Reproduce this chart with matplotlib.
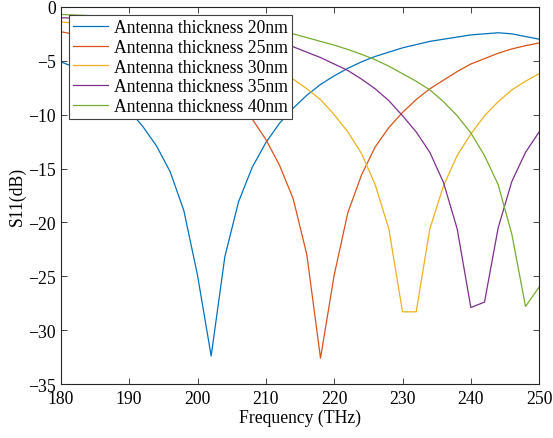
import numpy as np
import matplotlib
matplotlib.use("Agg")
import matplotlib.pyplot as plt

# frequency grid (THz)
freq = np.arange(180, 252, 2)

# S11 (dB) for each antenna thickness
s11_20nm = [-5.1, -5.6, -6.3, -7.2, -8.3, -9.6, -11.1, -12.9, -15.3, -18.9, -24.9, -32.4,
            -23.2, -18.1, -14.9, -12.6, -10.8, -9.4, -8.2, -7.2, -6.4, -5.7, -5.1, -4.6,
            -4.2, -3.8, -3.5, -3.2, -3.0, -2.8, -2.6, -2.5, -2.4, -2.5, -2.75, -3.0]
s11_25nm = [-2.3, -2.55, -2.8, -3.1, -3.45, -3.85, -4.3, -4.8, -5.35, -5.95, -6.6, -7.3,
            -8.1, -9.2, -10.4, -12.3, -14.7, -17.8, -23.0, -32.6, -24.9, -19.1, -15.6, -13.0,
            -11.2, -9.8, -8.6, -7.6, -6.8, -6.0, -5.3, -4.8, -4.3, -3.9, -3.6, -3.35]
s11_30nm = [-1.4, -1.5, -1.6, -1.7, -1.8, -1.95, -2.1, -2.25, -2.45, -2.7, -3.0, -3.4,
            -3.8, -4.3, -4.8, -5.4, -6.0, -6.7, -7.6, -8.6, -10.0, -11.6, -13.6, -16.5,
            -20.6, -28.3, -28.3, -20.6, -16.6, -13.8, -11.8, -10.1, -8.8, -7.7, -6.9, -6.2]
s11_35nm = [-1.0, -1.05, -1.1, -1.2, -1.25, -1.3, -1.4, -1.5, -1.6, -1.7, -1.85, -2.0,
            -2.2, -2.4, -2.65, -2.95, -3.3, -3.7, -4.2, -4.7, -5.3, -5.9, -6.7, -7.6,
            -8.7, -10.1, -11.6, -13.5, -16.3, -20.6, -27.9, -27.4, -20.5, -16.2, -13.5, -11.6]
s11_40nm = [-0.7, -0.75, -0.8, -0.85, -0.9, -1.0, -1.05, -1.15, -1.25, -1.35, -1.45, -1.55,
            -1.7, -1.85, -2.0, -2.15, -2.3, -2.5, -2.85, -3.2, -3.55, -3.95, -4.4, -4.9,
            -5.5, -6.2, -6.9, -7.7, -8.8, -10.1, -11.7, -13.8, -16.5, -21.1, -27.8, -26.0]

labels = ["Antenna thickness 20nm", "Antenna thickness 25nm", "Antenna thickness 30nm",
          "Antenna thickness 35nm", "Antenna thickness 40nm"]
colors = ["#0072BD", "#D95319", "#EDB120", "#7E2F8E", "#77AC30"]
series = [s11_20nm, s11_25nm, s11_30nm, s11_35nm, s11_40nm]

plt.rcParams["font.family"] = ["Liberation Serif", "DejaVu Serif"]
fs = 12.7

fig = plt.figure(figsize=(5.53, 4.39), dpi=100)
ax = fig.add_axes([0.110, 0.123, 0.865, 0.859])

for vals, lab, col in zip(series, labels, colors):
    ax.plot(freq, vals, color=col, lw=0.9, label=lab)

ax.set_xlim(180, 250)
ax.set_ylim(-35, 0)
ax.set_xticks(range(180, 251, 10))
ax.set_yticks(range(-35, 1, 5))
ax.tick_params(direction="in", top=True, right=True, length=4, width=0.6,
               labelsize=fs, colors="0.15", labelcolor="black")
ax.tick_params(axis="x", pad=4.5)
ax.tick_params(axis="y", pad=3.5)
for sp in ax.spines.values():
    sp.set_color("0.15")
    sp.set_linewidth(0.8)

ax.set_xlabel("Frequency (THz)", fontsize=fs, labelpad=1)
ax.set_ylabel("S11(dB)", fontsize=fs, labelpad=2)

leg = ax.legend(loc="upper left", fontsize=fs, fancybox=False, framealpha=1,
                edgecolor="0.25", borderaxespad=0.45, handlelength=2.0,
                labelspacing=0.15, borderpad=0.25, handletextpad=0.3)
leg.get_frame().set_linewidth(0.8)

fig.savefig("out.png", dpi=100)
